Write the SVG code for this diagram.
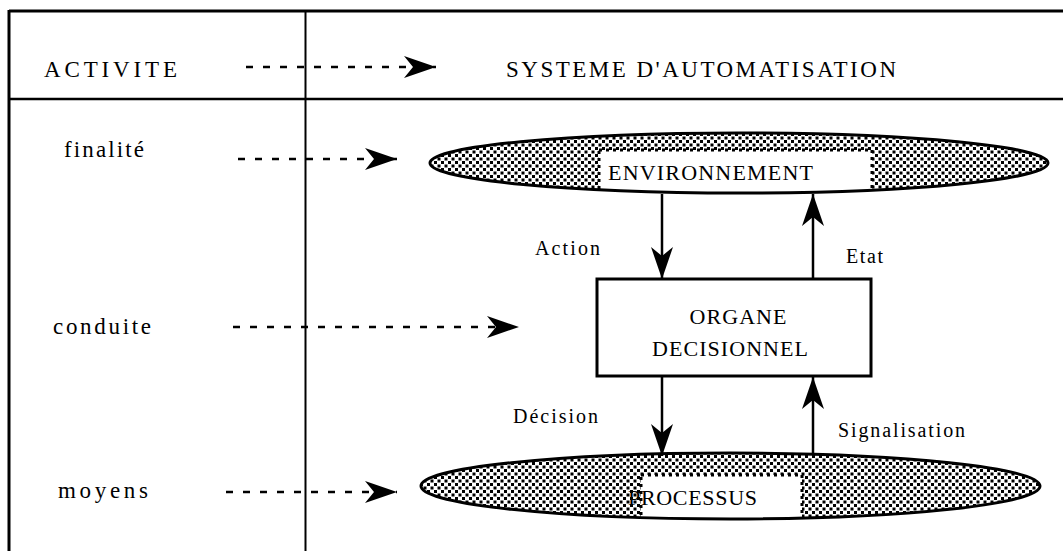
<svg xmlns="http://www.w3.org/2000/svg" width="1063" height="551" viewBox="0 0 1063 551">
<style>
text{font-family:"Liberation Serif","Times New Roman",serif;fill:#000;}
.t23{font-size:23px;}
.t22{font-size:22px;}
.t20{font-size:20px;}
.frame{stroke:#000;fill:none;}
.dash{stroke:#000;stroke-width:2.6;stroke-dasharray:7 10;fill:none;}
.solid{stroke:#000;stroke-width:2.5;fill:none;}
.lbl{fill:#fff;stroke:#000;stroke-width:3;stroke-dasharray:3 4;}
</style>
<defs>
<pattern id="dots" width="7" height="7" patternUnits="userSpaceOnUse">
<rect width="7" height="7" fill="#fff"/>
<rect x="0" y="0" width="3" height="3" fill="#000"/>
<rect x="3.5" y="3.5" width="3" height="3" fill="#000"/>
</pattern>
<marker id="ah" markerUnits="userSpaceOnUse" markerWidth="34" markerHeight="24" refX="32" refY="11" orient="auto" viewBox="0 0 34 24">
<path d="M0,0 L32,11 L0,22 L9,11 Z" fill="#000"/>
</marker>
<clipPath id="clipTop"><ellipse cx="739" cy="163" rx="309" ry="30"/></clipPath>
<clipPath id="clipBot"><ellipse cx="730.5" cy="486" rx="309.5" ry="33"/></clipPath>
</defs>

<g id="table">
<line class="frame" x1="9" y1="11" x2="1063" y2="11" stroke-width="3"/>
<line class="frame" x1="9" y1="10" x2="9" y2="551" stroke-width="3"/>
<line class="frame" x1="9" y1="99" x2="1063" y2="99" stroke-width="2.5"/>
<line class="frame" x1="305.5" y1="11" x2="305.5" y2="551" stroke-width="2"/>
</g>

<g id="header">
<text class="t23" x="44" y="77" textLength="133" lengthAdjust="spacing">ACTIVITE</text>
<text class="t23" x="506" y="77" textLength="390" lengthAdjust="spacing">SYSTEME D'AUTOMATISATION</text>
</g>

<g id="levels">
<text class="t23" x="64" y="157" textLength="80" lengthAdjust="spacing">finalité</text>
<text class="t23" x="53" y="334" textLength="98" lengthAdjust="spacing">conduite</text>
<text class="t23" x="58" y="498" textLength="90" lengthAdjust="spacing">moyens</text>
</g>

<g id="environnement">
<ellipse cx="739" cy="163" rx="309" ry="30" fill="url(#dots)"/>
<rect class="lbl" x="599" y="150" width="273" height="44" clip-path="url(#clipTop)"/>
<ellipse cx="739" cy="163" rx="309" ry="30" fill="none" stroke="#000" stroke-width="3"/>
<text class="t22" x="608" y="180" textLength="205" lengthAdjust="spacing">ENVIRONNEMENT</text>
</g>

<g id="organe">
<rect x="597" y="279" width="274" height="97" fill="#fff" stroke="#000" stroke-width="3"/>
<text class="t22" x="738" y="324" text-anchor="middle" textLength="97" lengthAdjust="spacing">ORGANE</text>
<text class="t22" x="730" y="356" text-anchor="middle" textLength="156" lengthAdjust="spacing">DECISIONNEL</text>
</g>

<g id="processus">
<ellipse cx="730.5" cy="486" rx="309.5" ry="33" fill="url(#dots)"/>
<rect class="lbl" x="641" y="475" width="161" height="48" clip-path="url(#clipBot)"/>
<ellipse cx="730.5" cy="486" rx="309.5" ry="33" fill="none" stroke="#000" stroke-width="3"/>
<text class="t22" x="628" y="505" textLength="129" lengthAdjust="spacing">PROCESSUS</text>
</g>

<g id="connectors">
<line class="dash" x1="246" y1="67" x2="436" y2="67" marker-end="url(#ah)"/>
<line class="dash" x1="238" y1="159" x2="397" y2="159" marker-end="url(#ah)"/>
<line class="dash" x1="233" y1="327" x2="519" y2="327" marker-end="url(#ah)"/>
<line class="dash" x1="226" y1="492" x2="397" y2="492" marker-end="url(#ah)"/>
<line class="solid" x1="662" y1="194" x2="662" y2="279" marker-end="url(#ah)"/>
<line class="solid" x1="813" y1="279" x2="813" y2="194" marker-end="url(#ah)"/>
<line class="solid" x1="662" y1="376" x2="662" y2="456" marker-end="url(#ah)"/>
<line class="solid" x1="813" y1="455" x2="813" y2="377" marker-end="url(#ah)"/>
</g>

<g id="labels">
<text class="t20" x="535" y="255" textLength="65" lengthAdjust="spacing">Action</text>
<text class="t20" x="846" y="263" textLength="37" lengthAdjust="spacing">Etat</text>
<text class="t20" x="513" y="423" textLength="85" lengthAdjust="spacing">Décision</text>
<text class="t20" x="838" y="437" textLength="127" lengthAdjust="spacing">Signalisation</text>
</g>
</svg>
